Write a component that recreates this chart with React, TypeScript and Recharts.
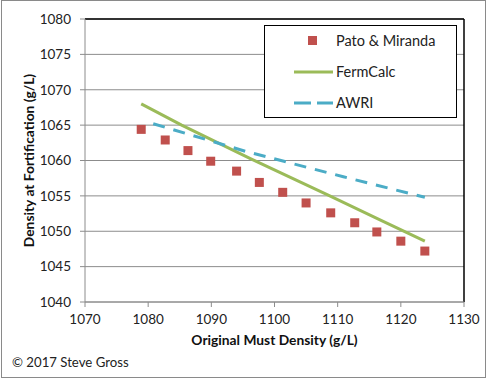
import React from "react";
import {
  ComposedChart,
  XAxis,
  YAxis,
  CartesianGrid,
  Scatter,
  Line,
  ReferenceLine,
  Legend,
} from "recharts";

const seriesNames = ["Pato & Miranda", "FermCalc", "AWRI"];
const seriesColors = ["#C0504D", "#9BBB59", "#4BACC6"];

const xTicks = [1070, 1080, 1090, 1100, 1110, 1120, 1130];
const yTicks = [1040, 1045, 1050, 1055, 1060, 1065, 1070, 1075, 1080];

const patoX = [1078.9, 1082.7, 1086.3, 1089.9, 1094.0, 1097.6, 1101.3, 1105.0, 1108.9, 1112.7, 1116.2, 1120.0, 1123.8];
const patoY = [1064.4, 1062.9, 1061.4, 1059.9, 1058.5, 1056.9, 1055.5, 1054.0, 1052.6, 1051.2, 1049.9, 1048.6, 1047.2];

const fermX = [1078.9, 1085.3, 1096.1, 1108.5, 1116.7, 1123.8];
const fermY = [1068.0, 1065.0, 1060.3, 1055.1, 1051.6, 1048.6];

const awriX = [1080.8, 1095.6, 1110.9, 1123.8];
const awriY = [1065.2, 1061.25, 1057.7, 1054.8];

const patoData = patoX.map((x, i) => ({ x, y: patoY[i] }));
const fermData = fermX.map((x, i) => ({ x, y: fermY[i] }));
const awriData = awriX.map((x, i) => ({ x, y: awriY[i] }));

const FONT = "Lato, 'Open Sans', sans-serif";

const Square = (props: any) => {
  const { cx, cy } = props;
  if (cx == null || cy == null) return null;
  return <rect x={cx - 4.5} y={cy - 4.5} width={9} height={9} fill={seriesColors[0]} />;
};

const LegendBox = () => (
  <div
    style={{
      width: 193,
      height: 93,
      boxSizing: "border-box",
      border: "1.5px solid #000",
      background: "#fff",
      fontFamily: FONT,
      position: "relative",
    }}
  >
    <svg width={193} height={93} style={{ position: "absolute", left: 0, top: 0 }}>
      <rect x={43} y={10} width={9} height={9} fill={seriesColors[0]} />
      <line x1={29} y1={46} x2={68} y2={46} stroke={seriesColors[1]} strokeWidth={3} />
      <line x1={29} y1={77} x2={68} y2={77} stroke={seriesColors[2]} strokeWidth={3} strokeDasharray="17 6" />
      <text x={71} y={20} fontFamily={FONT} fontSize={14.5} fill="#222">{seriesNames[0]}</text>
      <text x={71} y={51} fontFamily={FONT} fontSize={14.5} fill="#222">{seriesNames[1]}</text>
      <text x={71} y={82} fontFamily={FONT} fontSize={14.5} fill="#222">{seriesNames[2]}</text>
    </svg>
  </div>
);

export default function App() {
  return (
    <div style={{ position: "absolute", left: 0, top: 0, width: 488, height: 379, background: "#fff" }}>
      <div
        style={{
          position: "absolute",
          left: 1,
          top: 0,
          width: 485,
          height: 378,
          boxSizing: "border-box",
          border: "1px solid #8a8a8a",
          pointerEvents: "none",
        }}
      />
      <ComposedChart
        width={488}
        height={379}
        margin={{ top: 19, right: 24, bottom: 0, left: 0 }}
        style={{ fontFamily: FONT }}
      >
        <CartesianGrid vertical={false} stroke="#8c8c8c" strokeWidth={1} />
        <XAxis
          type="number"
          dataKey="x"
          domain={[1070, 1130]}
          ticks={xTicks}
          allowDataOverflow
          height={77}
          stroke="#8c8c8c"
          tickSize={5}
          tickMargin={7}
          tick={{ fill: "#222", fontSize: 13.5, fontFamily: FONT }}
          label={{
            value: "Original Must Density (g/L)",
            position: "insideTop",
            offset: 33,
            style: { fontWeight: "bold", fontSize: 13.8, fill: "#111", fontFamily: FONT },
          }}
        />
        <YAxis
          type="number"
          dataKey="y"
          domain={[1040, 1080]}
          ticks={yTicks}
          allowDataOverflow
          width={85}
          stroke="#8c8c8c"
          tickSize={5}
          tickMargin={9}
          tick={{ fill: "#222", fontSize: 13.5, fontFamily: FONT }}
          label={{
            value: "Density at Fortification (g/L)",
            angle: -90,
            position: "insideLeft",
            offset: 29,
            style: { fontWeight: "bold", fontSize: 13.8, fill: "#111", textAnchor: "middle", fontFamily: FONT },
          }}
        />
        <ReferenceLine y={1080} stroke="#000" strokeWidth={1.5} />
        <ReferenceLine x={1130} stroke="#000" strokeWidth={1.5} />
        <Line
          data={fermData}
          dataKey="y"
          name={seriesNames[1]}
          type="linear"
          stroke={seriesColors[1]}
          strokeWidth={3}
          dot={false}
          activeDot={false}
          isAnimationActive={false}
        />
        <Line
          data={awriData}
          dataKey="y"
          name={seriesNames[2]}
          type="linear"
          stroke={seriesColors[2]}
          strokeWidth={3}
          strokeDasharray="12 9"
          dot={false}
          activeDot={false}
          isAnimationActive={false}
        />
        <Scatter
          data={patoData}
          dataKey="y"
          name={seriesNames[0]}
          fill={seriesColors[0]}
          shape={<Square />}
          isAnimationActive={false}
        />
        <Legend
          layout="horizontal"
          verticalAlign="middle"
          align="center"
          content={() => <LegendBox />}
          wrapperStyle={{ position: "absolute", left: 264, top: 25, width: 193, height: 93, margin: 0, padding: 0 }}
        />
      </ComposedChart>
      <div
        style={{
          position: "absolute",
          left: 12,
          top: 354,
          fontFamily: FONT,
          fontSize: 13.2,
          color: "#222",
          whiteSpace: "nowrap",
        }}
      >
        © 2017 Steve Gross
      </div>
    </div>
  );
}
